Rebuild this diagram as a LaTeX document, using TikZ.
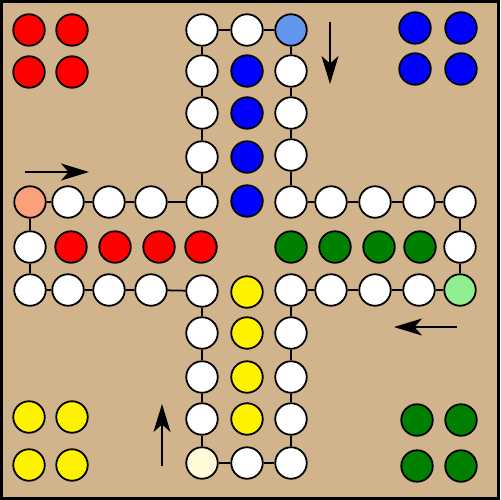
\documentclass[tikz,border=0pt]{standalone}
\usetikzlibrary{arrows.meta}

\definecolor{board}{RGB}{210,180,140}
\definecolor{redstart}{RGB}{250,160,122}
\definecolor{bluestart}{RGB}{100,149,237}
\definecolor{greenstart}{RGB}{144,238,144}
\definecolor{yellowstart}{RGB}{255,250,215}
\definecolor{homegreen}{RGB}{0,128,0}

\tikzset{
    field/.style={circle, draw=black, line width=0.036cm, minimum size=0.63cm, inner sep=0pt, fill=white},
    link/.style={line width=0.035cm, black},
    runarrow/.style={line width=0.035cm, -{Stealth[length=0.56cm, width=0.34cm, inset=0.15cm]}}
}

\begin{document}
\begin{tikzpicture}[x=0.02cm, y=-0.02cm]
        \useasboundingbox (0,0) rectangle (500,500);
        \draw[line width=0.06cm, fill=board] (1.5,1.5) rectangle (498.5,498.5); %brett

        % laufbahn, 40 felder im uhrzeigersinn
        \foreach \x/\y/\c [count=\i] in {
            30/202/redstart, 68/202/white, 109/202/white, 151/202/white, 202/202/white,
            202/157/white, 202/113/white, 202/71/white, 202/30/white, 247/30/white,
            291/30/bluestart, 291/71/white, 291/113/white, 291/155/white, 291/202/white,
            331/202/white, 375/202/white, 419/202/white, 460/202/white, 460/247/white,
            460/290/greenstart, 419/290/white, 375/290/white, 331/290/white, 291/290/white,
            291/333/white, 291/377/white, 291/419/white, 291/463/white, 247/463/white,
            202/463/yellowstart, 202/419/white, 202/377/white, 202/333/white, 202/291/white,
            151/290/white, 109/290/white, 68/290/white, 30/290/white, 30/247/white}
            \node[field, fill=\c] (path\i) at (\x,\y) {};
        \foreach \i [evaluate=\i as \j using {int(mod(\i,40)+1)}] in {1,...,40}
            \draw[link] (path\i) -- (path\j);

        % zielfelder
        \foreach \x [count=\i] in {71,115,159,201}
            \node[field, fill=red] (redgoal\i) at (\x,247) {};
        \foreach \y [count=\i] in {71,113,157,201}
            \node[field, fill=blue] (bluegoal\i) at (247,\y) {};
        \foreach \x [count=\i] in {420,379,335,291}
            \node[field, fill=homegreen] (greengoal\i) at (\x,247) {};
        \foreach \y [count=\i] in {419,377,333,292}
            \node[field, fill=yellow] (yellowgoal\i) at (247,\y) {};

        % startkreise in den ecken
        \foreach \x/\y [count=\i] in {29/30, 72/30, 29/72, 72/72}
            \node[field, fill=red] (redbase\i) at (\x,\y) {};
        \foreach \x/\y [count=\i] in {415/28, 461/28, 415/69, 461/69}
            \node[field, fill=blue] (bluebase\i) at (\x,\y) {};
        \foreach \x/\y [count=\i] in {417/420, 461/420, 417/466, 461/466}
            \node[field, fill=homegreen] (greenbase\i) at (\x,\y) {};
        \foreach \x/\y [count=\i] in {29/417, 72/417, 29/465, 72/465}
            \node[field, fill=yellow] (yellowbase\i) at (\x,\y) {};

        % laufrichtung
        \coordinate (redfrom) at (25,172);    \coordinate (redto) at (89,172);
        \coordinate (bluefrom) at (330,22);   \coordinate (blueto) at (330,84);
        \coordinate (greenfrom) at (457,327); \coordinate (greento) at (394,327);
        \coordinate (yellowfrom) at (162,466); \coordinate (yellowto) at (162,404);
        \draw[runarrow] (redfrom) -- (redto);
        \draw[runarrow] (bluefrom) -- (blueto);
        \draw[runarrow] (greenfrom) -- (greento);
        \draw[runarrow] (yellowfrom) -- (yellowto);
\end{tikzpicture}
\end{document}
